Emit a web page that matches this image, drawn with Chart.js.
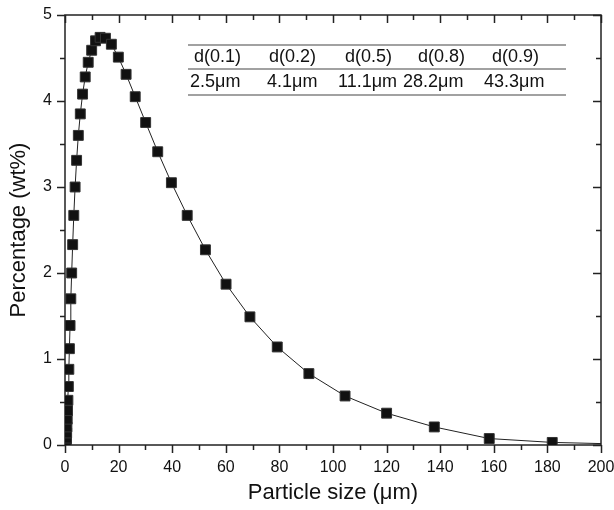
<!DOCTYPE html>
<html>
<head>
<meta charset="utf-8">
<script src="https://cdn.jsdelivr.net/npm/chart.js@4.4.1/dist/chart.umd.min.js"></script>
<style>
  html, body { margin: 0; padding: 0; background: #fff; }
</style>
</head>
<body>
<canvas id="psd" width="614" height="510"></canvas>
<script>
// particle size (um) and percentage (wt%)
const sizes = [0.36, 0.41, 0.47, 0.54, 0.62, 0.71, 0.82, 0.94, 1.08, 1.25, 1.43, 1.64, 1.89,
  2.17, 2.49, 2.86, 3.28, 3.77, 4.33, 4.97, 5.71, 6.56, 7.54, 8.66, 9.95, 11.4, 13.1, 15.1,
  17.3, 19.9, 22.8, 26.2, 30.1, 34.6, 39.7, 45.6, 52.4, 60.1, 69.0, 79.2, 91.0, 104.5,
  120.0, 137.8, 158.3, 181.8, 208.8];
const percents = [0.01, 0.02, 0.04, 0.08, 0.14, 0.21, 0.30, 0.40, 0.52, 0.68, 0.88, 1.12, 1.39,
  1.70, 2.00, 2.33, 2.67, 3.00, 3.31, 3.60, 3.85, 4.08, 4.28, 4.45, 4.59, 4.70, 4.74, 4.73,
  4.66, 4.51, 4.31, 4.05, 3.75, 3.41, 3.05, 2.67, 2.27, 1.87, 1.49, 1.14, 0.83, 0.57,
  0.37, 0.21, 0.075, 0.03, 0.01];

const tableHeads = ['d(0.1)', 'd(0.2)', 'd(0.5)', 'd(0.8)', 'd(0.9)'];
const tableValues = ['2.5\u03bcm', '4.1\u03bcm', '11.1\u03bcm', '28.2\u03bcm', '43.3\u03bcm'];

const FONT = "'Liberation Sans', Arial, sans-serif";

// box frame with inner/outer ticks, like the original plot
const frameTicks = {
  id: 'frameTicks',
  beforeDatasetsDraw(chart) {
    const { ctx, chartArea: a, scales: { x, y } } = chart;
    ctx.save();
    ctx.strokeStyle = '#222';
    ctx.lineWidth = 1.5;
    ctx.strokeRect(a.left, a.top, a.right - a.left, a.bottom - a.top);
    ctx.beginPath();
    for (let v = 0; v <= 200; v += 10) {
      const px = Math.round(x.getPixelForValue(v)) + 0.5;
      const len = v % 20 === 0 ? 8 : 5;
      ctx.moveTo(px, a.bottom); ctx.lineTo(px, a.bottom + len);
      ctx.moveTo(px, a.top); ctx.lineTo(px, a.top + len);
    }
    for (let v = 0; v <= 5; v += 0.5) {
      const py = Math.round(y.getPixelForValue(v)) + 0.5;
      const len = Number.isInteger(v) ? 8 : 5;
      ctx.moveTo(a.left, py); ctx.lineTo(a.left - len, py);
      ctx.moveTo(a.right, py); ctx.lineTo(a.right - len, py);
    }
    ctx.stroke();
    ctx.restore();
  }
};

// d(0.x) table in the upper right
const sizeTable = {
  id: 'sizeTable',
  afterDraw(chart) {
    const ctx = chart.ctx;
    const headX = [194, 269, 345, 418, 492];
    const valX = [190, 267, 338, 403, 484];
    ctx.save();
    ctx.strokeStyle = '#444';
    ctx.lineWidth = 1.2;
    ctx.beginPath();
    [45, 69, 95].forEach(function(ly) {
      ctx.moveTo(188, ly); ctx.lineTo(566, ly);
    });
    ctx.stroke();
    ctx.fillStyle = '#111';
    ctx.font = '18px ' + FONT;
    ctx.textBaseline = 'middle';
    ctx.textAlign = 'left';
    tableHeads.forEach(function(t, i) { ctx.fillText(t, headX[i], 57); });
    tableValues.forEach(function(t, i) { ctx.fillText(t, valX[i], 82); });
    ctx.restore();
  }
};

const points = sizes.map(function(s, i) { return { x: s, y: percents[i] }; });

new Chart(document.getElementById('psd'), {
  type: 'scatter',
  data: {
    datasets: [{
      data: points,
      showLine: true,
      borderColor: '#222',
      borderWidth: 1,
      tension: 0,
      pointStyle: 'rect',
      pointRadius: 7,
      pointHoverRadius: 7,
      pointBackgroundColor: '#111',
      pointBorderColor: '#333',
      pointBorderWidth: 1
    }]
  },
  options: {
    responsive: false,
    animation: false,
    devicePixelRatio: 1,
    layout: { padding: { top: 15, right: 13, left: 0, bottom: 0 } },
    plugins: {
      legend: { display: false },
      tooltip: { enabled: false }
    },
    scales: {
      x: {
        type: 'linear',
        min: 0,
        max: 200,
        border: { display: false },
        grid: { display: false, drawTicks: false },
        ticks: {
          stepSize: 20,
          padding: 13,
          color: '#111',
          font: { family: FONT, size: 16 },
          maxRotation: 0
        },
        title: {
          display: true,
          text: 'Particle size (\u03bcm)',
          color: '#111',
          font: { family: FONT, size: 22 },
          padding: { top: 0, bottom: 4 }
        },
        afterFit: function(scale) {
          scale.height = 65;
          scale.paddingLeft = 0;
          scale.paddingRight = 0;
        }
      },
      y: {
        type: 'linear',
        min: 0,
        max: 5,
        border: { display: false },
        grid: { display: false, drawTicks: false },
        ticks: {
          stepSize: 1,
          padding: 13,
          color: '#111',
          font: { family: FONT, size: 16 }
        },
        title: {
          display: true,
          text: 'Percentage (wt%)',
          color: '#111',
          font: { family: FONT, size: 22 },
          padding: { top: 6, bottom: 0 }
        },
        afterFit: function(scale) {
          scale.width = 65;
          scale.paddingTop = 0;
          scale.paddingBottom = 0;
        }
      }
    }
  },
  plugins: [frameTicks, sizeTable]
});
</script>
</body>
</html>
